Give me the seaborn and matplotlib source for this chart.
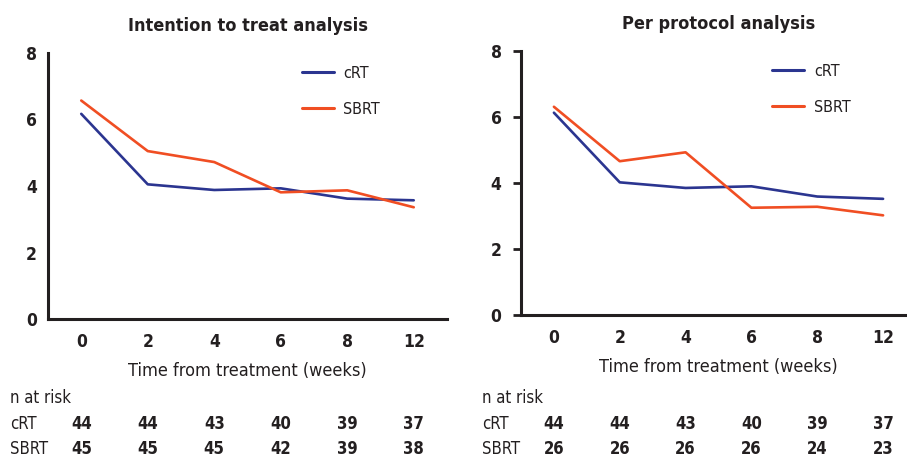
import pandas as pd
import matplotlib.pyplot as plt
import seaborn as sns

# time points (weeks) and mean values
weeks = ["0", "2", "4", "6", "8", "12"]
itt_crt = [6.17, 4.05, 3.88, 3.93, 3.62, 3.57]
itt_sbrt = [6.57, 5.05, 4.72, 3.81, 3.87, 3.36]
pp_crt = [6.13, 4.02, 3.85, 3.90, 3.59, 3.52]
pp_sbrt = [6.31, 4.66, 4.93, 3.25, 3.28, 3.02]

# numbers at risk
itt_risk_crt = [44, 44, 43, 40, 39, 37]
itt_risk_sbrt = [45, 45, 45, 42, 39, 38]
pp_risk_crt = [44, 44, 43, 40, 39, 37]
pp_risk_sbrt = [26, 26, 26, 26, 24, 23]

titles = ["Intention to treat analysis", "Per protocol analysis"]
colors = {"cRT": "#2b3590", "SBRT": "#f04e23"}
ink = "#231f20"

sns.set_theme(style="ticks")
plt.rcParams["font.family"] = ["DejaVu Sans"]
plt.rcParams["font.stretch"] = "condensed"


def long_df(crt, sbrt):
    return pd.DataFrame({
        "week": weeks * 2,
        "value": crt + sbrt,
        "group": ["cRT"] * len(weeks) + ["SBRT"] * len(weeks),
    })


fig = plt.figure(figsize=(9.07, 4.59), dpi=100)
W, H = 907, 459
ax1 = fig.add_axes([48 / W, 1 - 319 / H, 399 / W, 266 / H])
ax2 = fig.add_axes([521 / W, 1 - 315 / H, 395 / W, 264 / H])

panels = [
    (ax1, long_df(itt_crt, itt_sbrt), itt_risk_crt, itt_risk_sbrt, 48, 399, 10),
    (ax2, long_df(pp_crt, pp_sbrt), pp_risk_crt, pp_risk_sbrt, 521, 395, 482),
]

for i, (ax, df, rc, rs, x0, w, lab_x) in enumerate(panels):
    sns.lineplot(data=df, x="week", y="value", hue="group", palette=colors,
                 linewidth=1.9, sort=False, ax=ax)
    ax.set_xlim(-0.5, 5.5)
    ax.set_ylim(0, 8)
    ax.set_yticks([0, 2, 4, 6, 8])
    sns.despine(ax=ax)
    for s in ["left", "bottom"]:
        ax.spines[s].set_linewidth(2.2)
        ax.spines[s].set_color(ink)
    ax.tick_params(axis="x", length=0, pad=10, labelsize=12.5, colors=ink)
    ax.tick_params(axis="y", length=6 if i == 1 else 0, width=2, pad=8,
                   labelsize=12.5, colors=ink)
    for t in ax.get_xticklabels() + ax.get_yticklabels():
        t.set_fontweight("bold")
    ax.set_ylabel("")
    ax.set_xlabel("Time from treatment (weeks)", fontsize=13, color=ink, labelpad=8)
    ax.set_title(titles[i], fontsize=13, fontweight="bold", color=ink, pad=16)
    leg = ax.legend(loc="upper left", bbox_to_anchor=(0.6, 1.005), frameon=False,
                    fontsize=11.5, handlelength=2.0, labelspacing=1.3,
                    handletextpad=0.6)
    for line in leg.get_lines():
        line.set_linewidth(2.2)
    for t in leg.get_texts():
        t.set_color(ink)

    # n at risk table under each panel
    fig.text(lab_x / W, 1 - 398 / H, "n at risk", fontsize=12, color=ink,
             va="center", ha="left")
    for row_y, name, vals in [(424, "cRT", rc), (449, "SBRT", rs)]:
        fig.text(lab_x / W, 1 - row_y / H, name, fontsize=12, color=ink,
                 va="center", ha="left")
        for k, v in enumerate(vals):
            xpix = x0 + (k + 0.5) / 6 * w
            fig.text(xpix / W, 1 - row_y / H, str(v), fontsize=12,
                     fontweight="bold", color=ink, va="center", ha="center")

fig.savefig("out.png", dpi=100)
